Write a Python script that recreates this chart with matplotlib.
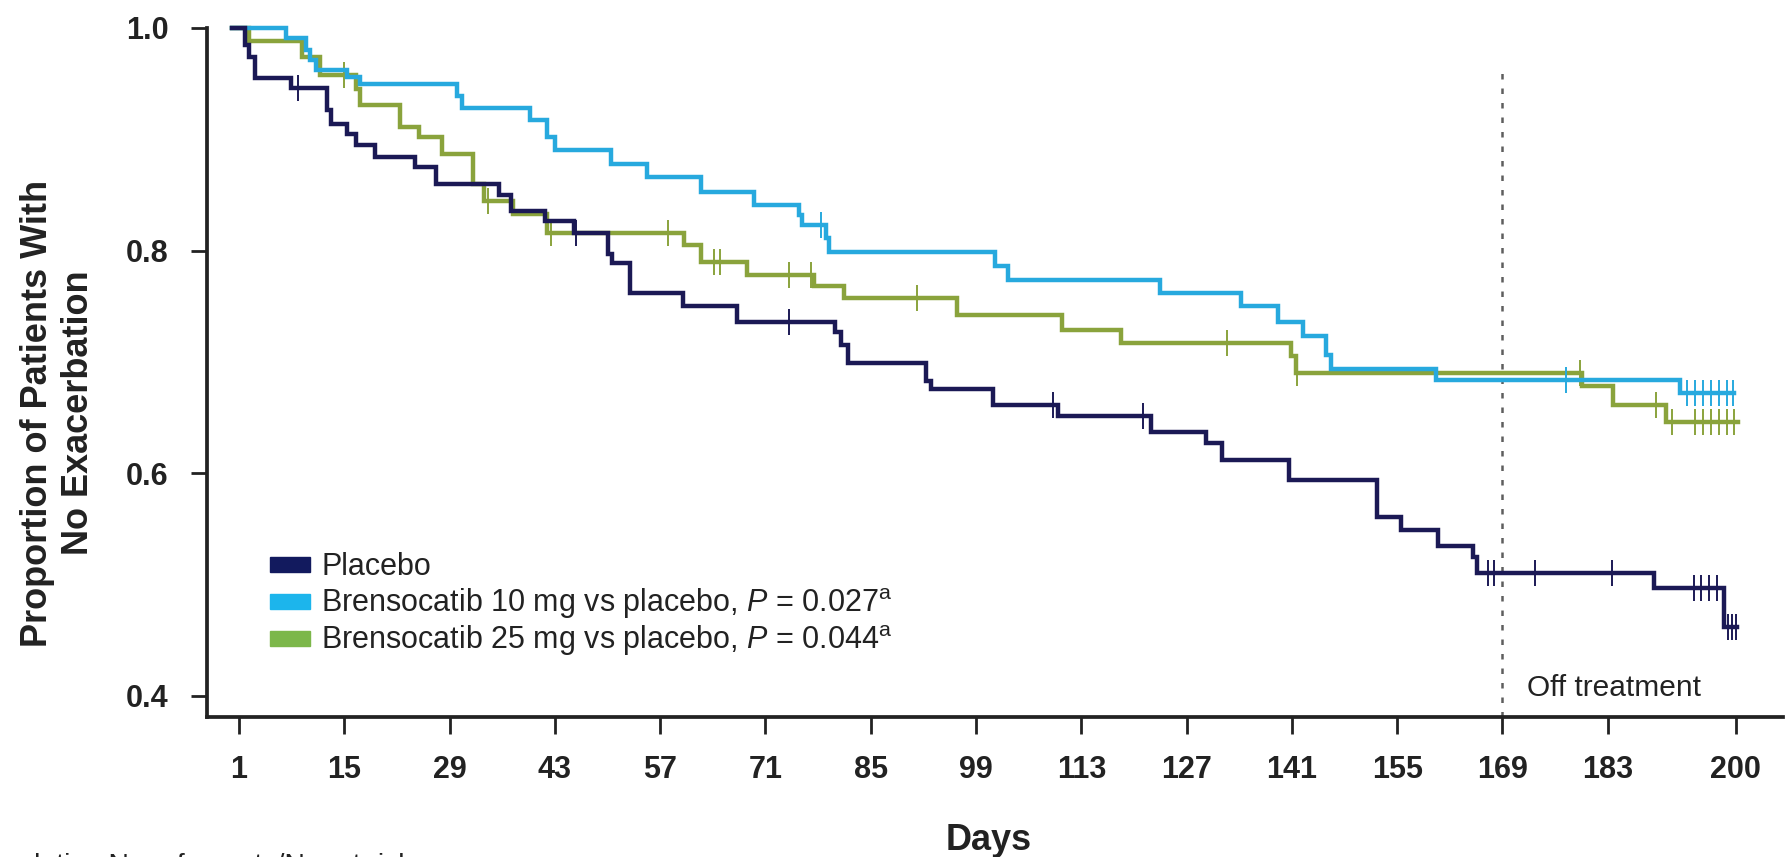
import matplotlib.pyplot as plt
import numpy as np
from matplotlib.patches import Rectangle

plt.rcParams['font.family'] = ['Liberation Sans', 'DejaVu Sans']
plt.rcParams['mathtext.fontset'] = 'custom'
plt.rcParams['mathtext.rm'] = 'Liberation Sans'
plt.rcParams['mathtext.it'] = 'Liberation Sans:italic'
plt.rcParams['mathtext.bf'] = 'Liberation Sans:bold'
NARROW = ['Liberation Sans Narrow', 'Liberation Sans', 'DejaVu Sans']

# Kaplan-Meier step points: day of event and survival after it
placebo_days = [0, 1.8, 2.3, 3.1, 7.9, 12.7, 13.2, 15.3, 16.5, 19.1, 24.4, 27.2, 35.6, 37.2,
                41.7, 45.5, 50.0, 50.6, 53.0, 60.0, 67.2, 80.2, 81.0, 82.0, 92.4, 93.0,
                101.3, 109.9, 122.2, 129.6, 131.7, 140.6, 152.3, 155.5, 160.4, 165.1, 165.6,
                189.2, 198.5, 200.2]
placebo_surv = [1.0, 0.985, 0.974, 0.955, 0.946, 0.926, 0.914, 0.905, 0.895, 0.884, 0.875, 0.860,
                0.850, 0.836, 0.827, 0.816, 0.797, 0.789, 0.762, 0.750, 0.736, 0.727, 0.715,
                0.699, 0.683, 0.676, 0.661, 0.651, 0.637, 0.627, 0.612, 0.594, 0.561, 0.549,
                0.535, 0.525, 0.510, 0.497, 0.462, 0.462]
placebo_censor = [8.9, 45.8, 74.1, 109.2, 121.2, 167.1, 167.9, 173.3, 183.5, 194.4, 195.4,
                  196.5, 197.5, 199.0, 199.5, 200.0]

b10_days = [0, 7.3, 9.9, 10.5, 11.3, 15.3, 17.1, 30.0, 30.6, 39.7, 42.0, 43.0, 50.4, 55.3,
            62.4, 69.5, 75.4, 75.8, 79.0, 79.5, 101.5, 103.3, 123.4, 134.2, 139.1, 142.5,
            145.5, 146.2, 160.1, 192.6, 199.8]
b10_surv = [1.0, 0.991, 0.980, 0.971, 0.962, 0.956, 0.950, 0.939, 0.928, 0.917, 0.902, 0.890,
            0.878, 0.866, 0.853, 0.841, 0.832, 0.823, 0.811, 0.799, 0.786, 0.774, 0.762, 0.750,
            0.736, 0.723, 0.706, 0.694, 0.684, 0.672, 0.672]
b10_censor = [78.4, 177.5, 193.6, 194.6, 195.7, 196.7, 197.8, 198.8, 199.6]

b25_days = [0, 2.3, 9.4, 11.7, 16.6, 17.1, 22.4, 24.9, 28.0, 32.1, 33.6, 37.4, 42.0, 60.1,
            62.4, 68.5, 77.4, 81.5, 96.5, 110.4, 118.3, 140.9, 141.5, 179.6, 183.7, 190.8, 200.3]
b25_surv = [1.0, 0.988, 0.974, 0.958, 0.945, 0.931, 0.911, 0.902, 0.887, 0.860, 0.845, 0.833,
            0.816, 0.805, 0.790, 0.778, 0.768, 0.757, 0.742, 0.729, 0.717, 0.705, 0.690, 0.678,
            0.661, 0.646, 0.646]
b25_censor = [15.0, 34.1, 42.5, 58.0, 64.2, 65.0, 74.1, 77.1, 91.1, 132.4, 141.7, 179.3,
              189.4, 191.6, 194.6, 195.7, 196.7, 197.8, 198.8, 199.8]

labels = ['Placebo',
          'Brensocatib 10 mg vs placebo, $P$ = 0.027$^{\\mathrm{a}}$',
          'Brensocatib 25 mg vs placebo, $P$ = 0.044$^{\\mathrm{a}}$']
line_colors = ['#1b1955', '#27a9de', '#8aa33c']
patch_colors = ['#121a5e', '#1cb5ec', '#7cb74a']

x_ticks = [1, 15, 29, 43, 57, 71, 85, 99, 113, 127, 141, 155, 169, 183, 200]
y_ticks = [0.4, 0.6, 0.8, 1.0]
off_treatment_day = 169

W, H = 1792, 857
fig = plt.figure(figsize=(W / 100, H / 100), dpi=100)
ax = fig.add_axes([207 / W, 1 - 717 / H, (1783 - 207) / W, (717 - 28) / H])

def surv_at(days, surv, t):
    idx = np.searchsorted(days, t, side='right') - 1
    return np.array(surv)[idx]

series = [(placebo_days, placebo_surv, placebo_censor),
          (b10_days, b10_surv, b10_censor),
          (b25_days, b25_surv, b25_censor)]

# 25 mg underneath, then 10 mg, placebo on top
for i in [2, 1, 0]:
    days, surv, cens = series[i]
    ax.step(days, surv, where='post', color=line_colors[i], lw=3.2, clip_on=False,
            solid_joinstyle='miter', zorder=3 + (2 - i))
    ax.plot(cens, surv_at(days, surv, cens), linestyle='none', marker='|', markersize=19,
            markeredgewidth=1.4, color=line_colors[i], zorder=3 + (2 - i))

# end of treatment marker
ax.plot([off_treatment_day, off_treatment_day], [0.381, 0.967], color='#5e5e5e', lw=1.8,
        linestyle=(0, (2.2, 3.6)), zorder=2)
ax.text(off_treatment_day + 3.3, 0.407, 'Off treatment', fontsize=21.5, color='#222222',
        va='center', ha='left')

ax.set_xlim(-3.26, 206.3)
ax.set_ylim(0.381, 1.0)
ax.set_xticks(x_ticks)
ax.set_yticks(y_ticks)
ax.set_xticklabels([str(t) for t in x_ticks], fontsize=22, fontweight='bold',
                   color='#222222', family=NARROW)
ax.set_yticklabels(['%.1f' % t for t in y_ticks], fontsize=22, fontweight='bold',
                   color='#222222', family=NARROW)
ax.tick_params(axis='x', length=12, width=2.0, pad=15, color='#222222')
ax.tick_params(axis='y', length=11.5, width=2.0, pad=16, color='#222222')
for side in ['top', 'right']:
    ax.spines[side].set_visible(False)
for side in ['left', 'bottom']:
    ax.spines[side].set_linewidth(2.7)
    ax.spines[side].set_color('#222222')

fig.text(58 / W, 1 - 413 / H, 'Proportion of Patients With\nNo Exacerbation', rotation=90,
         fontsize=26, fontweight='bold', ha='center', va='center', color='#222222',
         multialignment='center', linespacing=1.25)
fig.text(989 / W, 1 - 840 / H, 'Days', fontsize=26, fontweight='bold', ha='center',
         va='center', color='#222222', family=NARROW)
fig.text(412 / W, 1 - 853 / H, 'Cumulative No. of events/No. at risk', fontsize=20.5,
         ha='right', va='top', color='#222222')

# legend as colour swatches with labels
row_centers = [564, 601, 638]
for i, label in enumerate(labels):
    yc = row_centers[i]
    fig.patches.append(Rectangle((270 / W, 1 - (yc + 7.5) / H), 40 / W, 15 / H,
                                 transform=fig.transFigure, color=patch_colors[i]))
    fig.text(321 / W, 1 - (yc + 11) / H, label, fontsize=22, ha='left', va='baseline',
             color='#222222')

fig.savefig('out.png', dpi=100, facecolor='white')
